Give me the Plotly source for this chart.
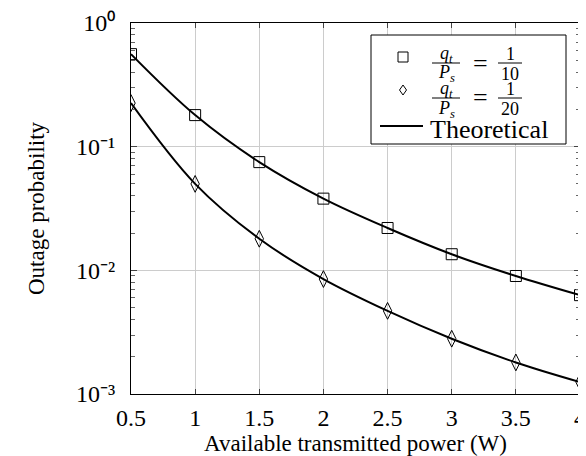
import plotly.graph_objects as go

# ---- data ----
power = [0.5, 1.0, 1.5, 2.0, 2.5, 3.0, 3.5, 4.0]
sim_ratio_10 = [0.56, 0.18, 0.075, 0.038, 0.022, 0.0135, 0.009, 0.0063]
sim_ratio_20 = [0.225, 0.05, 0.018, 0.0085, 0.0047, 0.0028, 0.0018, 0.00125]
theory_ratio_10 = [0.56, 0.18, 0.075, 0.038, 0.022, 0.0135, 0.009, 0.0063]
theory_ratio_20 = [0.225, 0.05, 0.018, 0.0085, 0.0047, 0.0028, 0.0018, 0.00125]
x_tick_text = ["0.5", "1", "1.5", "2", "2.5", "3", "3.5", "4"]
y_tick_vals = [1, 0.1, 0.01, 0.001]
y_tick_text = ["10⁰", "10⁻¹", "10⁻²", "10⁻³"]
legend_labels = ["<i>q<sub>t</sub></i>", "<i>P<sub>s</sub></i>", "1", "10", "20", "Theoretical"]

W, H = 586, 456
L, R, T, B = 123, 14, 15, 70
PW, PH = W - L - R, H - T - B
FONT = "Liberation Serif"


def px(xp):
    return (xp - L) / PW


def py(yp):
    return (H - B - yp) / PH


fig = go.Figure()
fig.add_trace(go.Scatter(x=power, y=theory_ratio_10, mode="lines", line=dict(color="black", width=2, shape="spline"), showlegend=False))
fig.add_trace(go.Scatter(x=power, y=theory_ratio_20, mode="lines", line=dict(color="black", width=2, shape="spline"), showlegend=False))
fig.add_trace(go.Scatter(x=power, y=sim_ratio_10, mode="markers",
                         marker=dict(symbol="square-open", size=11, color="black", line=dict(width=1)), showlegend=False))
fig.add_trace(go.Scatter(x=power, y=sim_ratio_20, mode="markers",
                         marker=dict(symbol="diamond-tall-open", size=12, color="black", line=dict(width=1)), showlegend=False))

shapes = []
annotations = []
# legend box
shapes.append(dict(type="rect", xref="paper", yref="paper", x0=px(363), x1=px(558), y0=py(136), y1=py(27),
                   line=dict(color="black", width=1), fillcolor="white", layer="above"))
# square symbol
shapes.append(dict(type="rect", xref="paper", yref="paper", x0=px(390), x1=px(400), y0=py(54), y1=py(44),
                   line=dict(color="black", width=1), layer="above"))
# diamond symbol
cx, cy = px(395), py(82)
dx, dy = 3.5 / PW, 5 / PH
shapes.append(dict(type="path", xref="paper", yref="paper",
                   path=f"M {cx},{cy+dy} L {cx+dx},{cy} L {cx},{cy-dy} L {cx-dx},{cy} Z",
                   line=dict(color="black", width=1), layer="above"))
# line symbol
shapes.append(dict(type="line", xref="paper", yref="paper", x0=px(372), x1=px(415), y0=py(118), y1=py(118),
                   line=dict(color="black", width=2), layer="above"))


def fraction(xc, yc, num, den, half, size=18):
    annotations.append(dict(xref="paper", yref="paper", x=px(xc), y=py(yc - 9), text=num, showarrow=False,
                            xanchor="center", yanchor="middle", borderpad=0,
                            font=dict(family=FONT, size=size, color="black")))
    annotations.append(dict(xref="paper", yref="paper", x=px(xc), y=py(yc + 11), text=den, showarrow=False,
                            xanchor="center", yanchor="middle", borderpad=0,
                            font=dict(family=FONT, size=size, color="black")))
    shapes.append(dict(type="line", xref="paper", yref="paper", x0=px(xc - half), x1=px(xc + half),
                       y0=py(yc), y1=py(yc), line=dict(color="black", width=1), layer="above"))


for yc, den in [(55, legend_labels[3]), (90, legend_labels[4])]:
    fraction(438, yc, legend_labels[0], legend_labels[1], 14)
    annotations.append(dict(xref="paper", yref="paper", x=px(472), y=py(yc), text="=", showarrow=False,
                            xanchor="center", yanchor="middle", borderpad=0,
                            font=dict(family=FONT, size=26, color="black")))
    fraction(502, yc, legend_labels[2], den, 12)

annotations.append(dict(xref="paper", yref="paper", x=px(421), y=py(121), text=legend_labels[5], showarrow=False,
                        xanchor="left", yanchor="middle", borderpad=0,
                        font=dict(family=FONT, size=26, color="black")))

fig.update_layout(
    width=W, height=H, autosize=False,
    margin=dict(l=L, r=R, t=T, b=B, autoexpand=False),
    plot_bgcolor="white", paper_bgcolor="white",
    font=dict(family=FONT, size=24, color="black"),
    shapes=shapes, annotations=annotations,
    showlegend=False,
)
fig.update_xaxes(
    range=[0.5, 4], tickvals=power, ticktext=x_tick_text, automargin=False,
    showgrid=True, gridcolor="#cccccc", gridwidth=1,
    ticks="inside", ticklen=5, tickcolor="#444444",
    showline=True, linecolor="black", linewidth=1, mirror="allticks",
    zeroline=False, ticklabelstandoff=2, ticklabeloverflow="allow",
    title=dict(text="Available transmitted power (W)", font=dict(size=23), standoff=0),
)
fig.update_yaxes(
    type="log", range=[-3, 0], tickvals=y_tick_vals, ticktext=y_tick_text, automargin=False,
    showgrid=True, gridcolor="#cccccc", gridwidth=1,
    ticks="inside", ticklen=6, tickcolor="#444444",
    minor=dict(ticks="inside", ticklen=4, tickcolor="#666666", dtick="D1", showgrid=False),
    showline=True, linecolor="black", linewidth=1, mirror="allticks",
    zeroline=False, ticklabelstandoff=10, ticklabeloverflow="allow",
    title=dict(text="Outage probability", font=dict(size=23), standoff=24),
)

fig.write_html("out.html")
